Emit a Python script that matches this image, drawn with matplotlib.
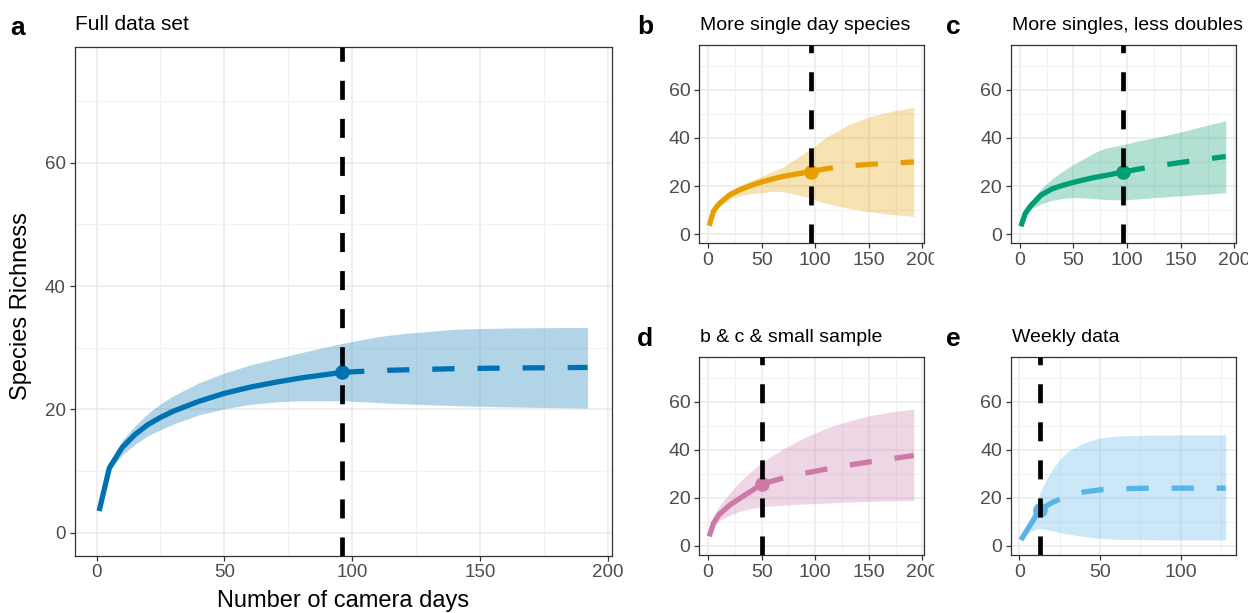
import matplotlib

matplotlib.use("Agg")

import matplotlib.pyplot as plt
from matplotlib.ticker import MultipleLocator
from matplotlib.transforms import Bbox, TransformedBbox

plt.rcParams["font.family"] = ["Liberation Sans", "DejaVu Sans"]
plt.rcParams["lines.scale_dashes"] = False

# ---- data ----
# a: full data set
a_days = [1, 5, 10, 15, 20, 25, 30, 40, 50, 60, 70, 80, 96]
a_rich = [3.5, 10.5, 13.8, 15.9, 17.5, 18.7, 19.7, 21.3, 22.6, 23.6, 24.4, 25.1, 26.0]
a_upper = [3.5, 11.0, 15.0, 17.3, 19.3, 20.9, 22.2, 24.3, 25.9, 27.2, 28.2, 29.2, 30.7]
a_lower = [3.5, 10.0, 12.6, 14.3, 15.7, 16.7, 17.6, 19.1, 20.1, 20.8, 21.2, 21.4, 21.4]
a_ext_days = [96, 110, 120, 140, 160, 192]
a_ext_rich = [26.0, 26.3, 26.4, 26.6, 26.7, 26.8]
a_ext_upper = [30.7, 31.8, 32.3, 33.0, 33.2, 33.3]
a_ext_lower = [21.4, 21.1, 20.9, 20.6, 20.4, 20.2]

# b: more single day species
b_days = [1, 5, 10, 20, 30, 40, 50, 60, 70, 80, 96]
b_rich = [3.4, 9.5, 12.5, 16.3, 18.5, 20.2, 21.7, 22.9, 24.0, 24.8, 26.0]
b_upper = [3.4, 10.2, 13.6, 18.0, 20.3, 22.3, 24.0, 26.0, 28.0, 30.8, 35.5]
b_lower = [3.4, 8.8, 11.4, 14.6, 16.0, 16.8, 17.2, 17.8, 17.6, 16.7, 14.8]
b_ext_days = [96, 110, 130, 150, 170, 192]
b_ext_rich = [26.0, 27.2, 28.3, 29.0, 29.5, 30.0]
b_ext_upper = [35.5, 40.3, 45.3, 48.8, 51.0, 52.8]
b_ext_lower = [14.8, 12.8, 10.8, 9.3, 8.2, 7.3]

# c: more singles, less doubles
c_days = [1, 5, 10, 20, 30, 40, 50, 60, 70, 80, 96]
c_rich = [3.2, 8.5, 11.7, 16.3, 18.8, 20.3, 21.5, 22.6, 23.6, 24.4, 25.8]
c_upper = [3.2, 9.5, 13.5, 19.0, 23.0, 26.2, 29.0, 31.5, 34.0, 35.8, 37.2]
c_lower = [3.2, 7.8, 10.3, 12.6, 14.0, 14.8, 15.2, 15.0, 14.7, 14.4, 14.2]
c_ext_days = [96, 110, 130, 150, 170, 192]
c_ext_rich = [25.8, 27.0, 28.5, 29.8, 31.0, 32.3]
c_ext_upper = [37.2, 38.8, 40.5, 42.5, 44.8, 47.2]
c_ext_lower = [14.2, 14.6, 15.3, 15.9, 16.5, 17.2]

# d: b & c & small sample
d_days = [1, 5, 10, 20, 30, 40, 50]
d_rich = [4.0, 9.5, 13.0, 17.0, 20.0, 22.8, 25.8]
d_upper = [4.0, 12.5, 16.5, 22.0, 27.0, 31.0, 34.8]
d_lower = [4.0, 7.5, 10.5, 12.8, 14.5, 15.6, 16.3]
d_ext_days = [50, 70, 90, 110, 130, 150, 170, 192]
d_ext_rich = [25.8, 28.3, 30.3, 32.0, 33.6, 35.0, 36.3, 37.7]
d_ext_upper = [34.8, 40.5, 45.2, 49.0, 52.0, 54.2, 55.8, 57.0]
d_ext_lower = [16.3, 17.0, 17.5, 17.9, 18.3, 18.6, 18.8, 19.0]

# e: weekly data
e_days = [1, 4, 7, 10, 13]
e_rich = [2.5, 5.8, 9.0, 12.2, 15.0]
e_upper = [2.5, 7.5, 12.0, 17.5, 22.5]
e_lower = [2.5, 4.5, 6.0, 7.0, 7.3]
e_ext_days = [13, 16, 20, 25, 30, 40, 50, 60, 80, 100, 128]
e_ext_rich = [15.0, 16.3, 18.0, 19.5, 20.8, 22.5, 23.4, 23.8, 24.1, 24.1, 24.1]
e_ext_upper = [22.5, 26.8, 31.5, 36.0, 39.4, 43.0, 45.0, 45.8, 46.2, 46.3, 46.3]
e_ext_lower = [7.3, 7.0, 6.3, 5.6, 5.0, 3.9, 3.2, 2.8, 2.6, 2.5, 2.5]

colors = {
    "a": "#0072B2",
    "b": "#E69F00",
    "c": "#009E73",
    "d": "#CC79A7",
    "e": "#56B4E9",
}

W, H = 1259, 613
fig = plt.figure(figsize=(W / 100, H / 100), dpi=100)
fig.patch.set_facecolor("white")


def px_axes(left, top, right, bottom):
    return fig.add_axes([left / W, 1 - bottom / H, (right - left) / W, (bottom - top) / H])


def draw_panel(ax, obs, ext, color, xmax, xstep, labelsize=14):
    days, rich, lower, upper = obs
    ext_days, ext_rich, ext_lower, ext_upper = ext

    band_x = days + ext_days[1:]
    band_lo = lower + ext_lower[1:]
    band_hi = upper + ext_upper[1:]

    ax.fill_between(band_x, band_lo, band_hi, color=color, alpha=0.3, lw=0, zorder=2)
    ax.plot(days, rich, color=color, lw=3.8, solid_capstyle="butt",
            solid_joinstyle="round", zorder=3)
    ax.plot(ext_days, ext_rich, color=color, lw=3.8, dashes=(16, 16.5),
            dash_capstyle="butt", zorder=3)
    ax.plot([days[-1]], [rich[-1]], "o", color=color, ms=10.5, mec="none", zorder=4)
    ax.axvline(days[-1], color="black", lw=3.4, dashes=(13.7, 13.7),
               dash_capstyle="butt", zorder=5)

    span = xmax - 1
    ax.set_xlim(1 - 0.05 * span, xmax + 0.05 * span)
    ax.set_ylim(-3.75, 78.75)
    ax.xaxis.set_major_locator(MultipleLocator(xstep))
    ax.xaxis.set_minor_locator(MultipleLocator(xstep / 2))
    ax.yaxis.set_major_locator(MultipleLocator(20))
    ax.yaxis.set_minor_locator(MultipleLocator(10))

    ax.set_axisbelow(True)
    ax.grid(True, which="major", color="#EBEBEB", lw=1.1, zorder=0)
    ax.grid(True, which="minor", color="#F2F2F2", lw=0.9, zorder=0)
    ax.tick_params(which="major", direction="out", length=3.3, width=0.9,
                   color="#333333", labelcolor="#4D4D4D", labelsize=labelsize, pad=3)
    ax.tick_params(which="minor", length=0)
    for s in ax.spines.values():
        s.set_color("#333333")
        s.set_linewidth(0.9)


ax_a = px_axes(74.7, 47.3, 612, 555.7)
draw_panel(ax_a, (a_days, a_rich, a_lower, a_upper),
           (a_ext_days, a_ext_rich, a_ext_lower, a_ext_upper), colors["a"], 192, 50,
           labelsize=13.5)

ax_b = px_axes(699, 45, 924, 243)
draw_panel(ax_b, (b_days, b_rich, b_lower, b_upper),
           (b_ext_days, b_ext_rich, b_ext_lower, b_ext_upper), colors["b"], 192, 50)

ax_c = px_axes(1010.7, 45, 1236, 243)
draw_panel(ax_c, (c_days, c_rich, c_lower, c_upper),
           (c_ext_days, c_ext_rich, c_ext_lower, c_ext_upper), colors["c"], 192, 50)

ax_d = px_axes(699, 357, 924, 555)
draw_panel(ax_d, (d_days, d_rich, d_lower, d_upper),
           (d_ext_days, d_ext_rich, d_ext_lower, d_ext_upper), colors["d"], 192, 50)

ax_e = px_axes(1010.7, 357, 1236, 555)
draw_panel(ax_e, (e_days, e_rich, e_lower, e_upper),
           (e_ext_days, e_ext_rich, e_ext_lower, e_ext_upper), colors["e"], 128, 50)


def fig_text(x, y, s, **kw):
    fig.text(x / W, 1 - y / H, s, **kw)


# panel tags and titles
tags = [("a", 10, 35), ("b", 637, 34), ("c", 946, 34), ("d", 637, 346), ("e", 946, 346)]
for tag, x, y in tags:
    fig_text(x, y, tag, fontsize=19, fontweight="bold", ha="left", va="baseline")

titles = [("Full data set", 75, 30, 15), ("More single day species", 700, 30, 14),
          ("More singles, less doubles", 1012, 30, 14), ("b & c & small sample", 700, 342, 14),
          ("Weekly data", 1012, 342, 14)]
for title, x, y, size in titles:
    fig_text(x, y, title, fontsize=size, ha="left", va="baseline")

fig_text(343, 607, "Number of camera days", fontsize=17, ha="center", va="baseline")
fig_text(21, 306, "Species Richness", fontsize=17, ha="center", va="center", rotation=90)

# the right-most x tick label of b, c and d is cut off in the original layout
fig.canvas.draw()
for ax, right in [(ax_b, 934), (ax_c, 1248), (ax_d, 934)]:
    box = TransformedBbox(Bbox([[0, 0], [right / W, 1]]), fig.transFigure)
    for tick in ax.xaxis.get_major_ticks():
        tick.label1.set_clip_box(box)
        tick.label1.set_clip_on(True)

fig.savefig("out.png", dpi=100, facecolor="white")
